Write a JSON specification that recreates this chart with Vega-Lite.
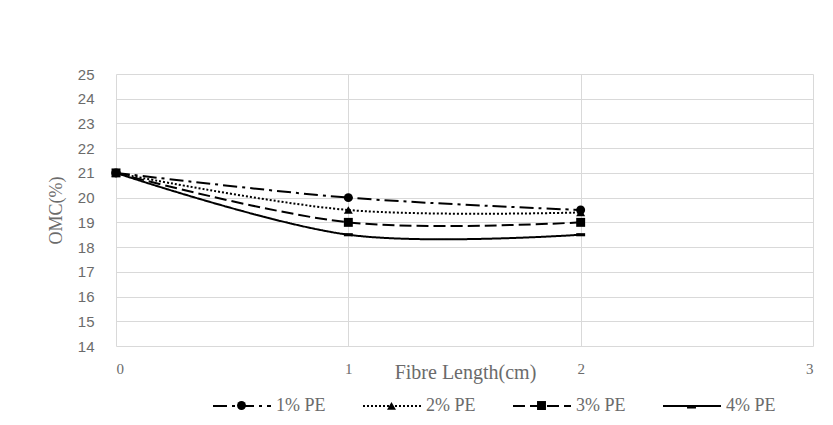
{
  "$schema": "https://vega.github.io/schema/vega-lite/v6.json",
  "width": 697,
  "height": 272,
  "autosize": {"type": "none"},
  "padding": {"left": 116, "top": 74, "right": 20, "bottom": 79},
  "background": "white",
  "config": {
    "view": {"stroke": null},
    "axis": {"domain": false, "ticks": false, "gridColor": "#d9d9d9", "gridWidth": 1, "labelColor": "#6b6b6b", "titleColor": "#6b6b6b", "titleFontWeight": "normal"}
  },
  "data": {
    "values": [
      {"length": 0, "omc": 21, "series": "1% PE"},
      {"length": 1, "omc": 20, "series": "1% PE"},
      {"length": 2, "omc": 19.5, "series": "1% PE"},
      {"length": 0, "omc": 21, "series": "2% PE"},
      {"length": 1, "omc": 19.5, "series": "2% PE"},
      {"length": 2, "omc": 19.4, "series": "2% PE"},
      {"length": 0, "omc": 21, "series": "3% PE"},
      {"length": 1, "omc": 19, "series": "3% PE"},
      {"length": 2, "omc": 19, "series": "3% PE"},
      {"length": 0, "omc": 21, "series": "4% PE"},
      {"length": 1, "omc": 18.5, "series": "4% PE"},
      {"length": 2, "omc": 18.5, "series": "4% PE"}
    ]
  },
  "encoding": {
    "x": {
      "field": "length", "type": "quantitative",
      "scale": {"domain": [0, 3], "nice": false},
      "axis": {"values": [0, 1, 2, 3], "format": "d", "labelFont": "Liberation Serif", "labelFontSize": 15, "labelPadding": 15,
        "title": "Fibre Length(cm)", "titleFont": "Liberation Serif", "titleFontSize": 20, "titleX": 349, "titleY": 26, "titleBaseline": "middle", "titleAlign": "center"}
    },
    "y": {
      "field": "omc", "type": "quantitative",
      "scale": {"domain": [14, 25], "nice": false, "zero": false},
      "axis": {"values": [14, 15, 16, 17, 18, 19, 20, 21, 22, 23, 24, 25], "labelFont": "Liberation Sans", "labelFontSize": 15, "labelPadding": 22,
        "title": "OMC(%)", "titleFont": "Liberation Serif", "titleFontSize": 18, "titleX": -60, "titleY": 136, "titleBaseline": "middle", "titleAlign": "center", "titleAngle": -90}
    }
  },
  "layer": [
    {
      "mark": {"type": "line", "interpolate": "cardinal", "color": "black", "strokeWidth": 2},
      "encoding": {
        "strokeDash": {
          "field": "series", "type": "nominal",
          "scale": {"domain": ["1% PE", "2% PE", "3% PE", "4% PE"], "range": [[14, 5, 3, 5], [2, 2], [12, 5], [1, 0]]},
          "legend": {"orient": "none", "direction": "horizontal", "legendX": 96, "legendY": 302, "title": null,
            "symbolType": "stroke", "symbolSize": 3364, "symbolStrokeWidth": 2, "symbolStrokeColor": "black",
            "labelFont": "Liberation Serif", "labelFontSize": 18, "labelColor": "#6b6b6b", "labelOffset": 4, "columnPadding": 33}
        }
      }
    },
    {
      "mark": {"type": "point", "filled": true, "color": "black", "size": 80, "opacity": 1},
      "encoding": {
        "shape": {
          "field": "series", "type": "nominal",
          "scale": {"range": ["circle", "triangle-up", "square", "M-1,-0.35L1,-0.35L1,0.35L-1,0.35Z"]},
          "legend": {"orient": "none", "direction": "horizontal", "legendX": 121, "legendY": 327, "title": null,
            "symbolSize": 80, "symbolFillColor": "black", "symbolStrokeColor": "black", "symbolStrokeWidth": 0,
            "labelExpr": "''", "labelFontSize": 1, "labelOffset": 0, "columnPadding": 141}
        }
      }
    }
  ]
}
